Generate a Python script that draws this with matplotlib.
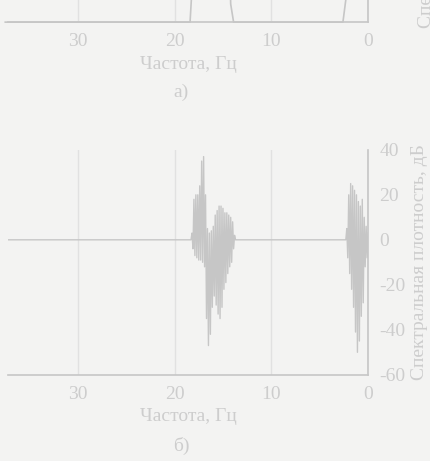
import numpy as np
from matplotlib import pyplot as plt

# === DATA ===
# panel а) - amplitude response, dB (only its lower edge survives on the page)
freq_a = [0.0, 2.0, 2.2, 2.3, 2.6, 13.9, 14.2, 14.4, 14.6, 17.8, 18.0, 18.2, 18.4, 37.5]
amp_a = [30, 28, 10, -50, -60, -60, -52, -20, 20, 25, 10, -45, -60, -60]

# panel б) - spectral density, dB: two bursts, zero elsewhere
burst_low_start, burst_low_step = 0.0, 0.1
burst_low = [3, -8, 6, -12, 10, -28, 18, -34, 15, -45, 17, -50,
             20, -41, 22, -30, 24, -22, 25, -15, 20, -8, 5]
burst_mid_start, burst_mid_step = 13.8, 0.1
burst_mid = [2, -4, 8, -10, 10, -12, 11, -15, 12, -19, 12, -22, 14, -30, 15,
             -35, 15, -33, 13, -29, 11, -25, 6, -30, 4, -42, 3, -47, 5, -35,
             20, -12, 37, -10, 35, -9, 24, -9, 20, -8, 20, -7, 18, -4, 3]
quiet_freq = [2.3, 13.7, 18.3, 37.5]

x_ticks = [0, 10, 20, 30]
y_ticks = [-60, -40, -20, 0, 20, 40]
x_label = 'Частота, Гц'
y_label = 'Спектральная плотность, дБ'
captions = ['а)', 'б)']

# === STYLE ===
PAPER = '#f3f3f2'
INK = '#c6c6c6'
TEXT = '#cdcdcd'
GRID = '#e1e1e1'

plt.rcParams['font.family'] = ['Liberation Serif', 'DejaVu Serif']
plt.rcParams['font.size'] = 14
plt.rcParams['axes.unicode_minus'] = False


def style_axes(ax: plt.Axes, show_yticks: bool = True) -> None:
    ax.set_facecolor(PAPER)
    ax.set_xlim(37.2, 0)
    ax.set_ylim(-60, 40)
    ax.set_xticks(x_ticks)
    ax.set_yticks(y_ticks if show_yticks else [])
    ax.yaxis.tick_right()
    ax.yaxis.set_label_position('right')
    ax.tick_params(length=0, colors=TEXT, labelsize=14)
    ax.tick_params(axis='x', pad=8)
    ax.tick_params(axis='y', pad=8)
    ax.grid(axis='x', color=GRID, linewidth=1.0)
    for side in ('top', 'left'):
        ax.spines[side].set_visible(False)
    for side in ('right', 'bottom'):
        ax.spines[side].set_color(INK)
        ax.spines[side].set_linewidth(1.2)
    ax.set_xlabel(x_label, color=TEXT, labelpad=4)
    ax.set_ylabel(y_label, color=TEXT, labelpad=4)


fig = plt.figure(figsize=(4.30, 4.61), dpi=100, facecolor=PAPER)

# upper panel sits mostly above the page edge
ax_a = fig.add_axes([0.019, 0.952, 0.837, 0.488])
style_axes(ax_a, show_yticks=False)
ax_a.yaxis.labelpad = 36
ax_a.plot(freq_a, amp_a, color=INK, linewidth=1.2, clip_on=False)
ax_a.text(0.48, -0.31, captions[0], transform=ax_a.transAxes, color=TEXT,
          ha='center', va='center', fontsize=14)

# lower panel
ax_b = fig.add_axes([0.019, 0.187, 0.837, 0.488])
style_axes(ax_b)
f_low = burst_low_start + burst_low_step * np.arange(len(burst_low))
f_mid = burst_mid_start + burst_mid_step * np.arange(len(burst_mid))
freq_b = np.concatenate([f_low, quiet_freq[:2], f_mid, quiet_freq[2:]])
dens_b = np.concatenate([burst_low, [0, 0], burst_mid, [0, 0]])
ax_b.plot(freq_b, dens_b, color=INK, linewidth=1.0)
ax_b.text(0.48, -0.315, captions[1], transform=ax_b.transAxes, color=TEXT,
          ha='center', va='center', fontsize=14)

fig.savefig('out.png', dpi=100, facecolor=PAPER)
